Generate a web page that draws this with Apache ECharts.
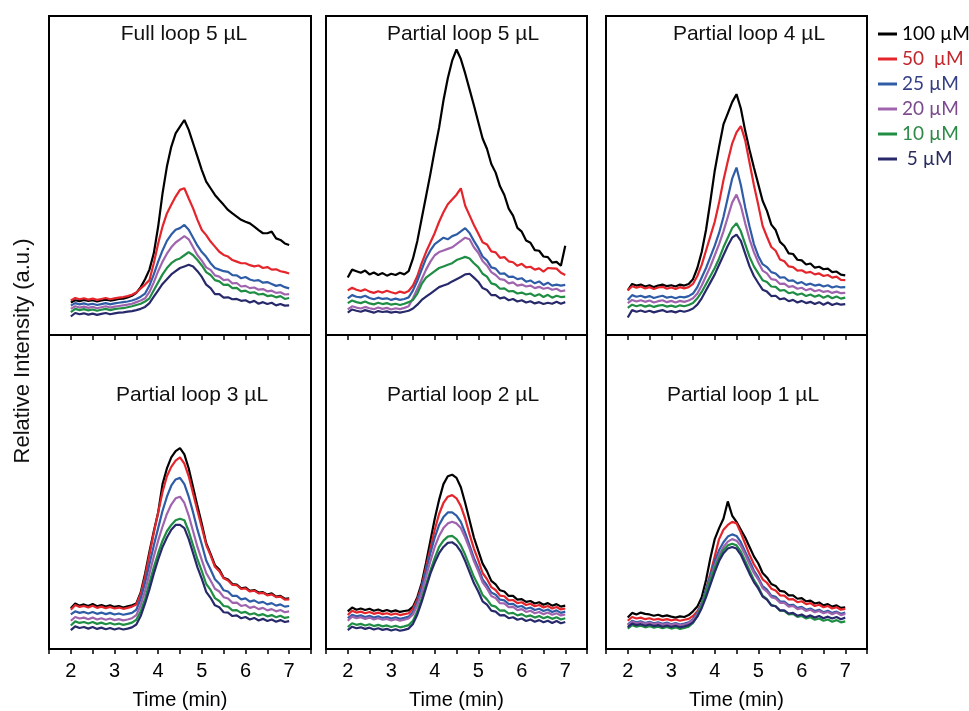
<!DOCTYPE html>
<html>
<head>
<meta charset="utf-8">
<title>Injection loop chromatograms</title>
<style>
  html, body { margin: 0; padding: 0; background: #ffffff; }
  #chart { width: 969px; height: 711px; }
</style>
<script src="https://cdn.jsdelivr.net/npm/echarts@6/dist/echarts.min.js"></script>
</head>
<body>
<div id="chart"></div>
<script>
// Retention time axis (min), shared by every trace
const TIMES = [2.0, 2.1, 2.2, 2.3, 2.4, 2.5, 2.6, 2.7, 2.8, 2.9,
               3.0, 3.1, 3.2, 3.3, 3.4, 3.5, 3.6, 3.7, 3.8, 3.9,
               4.0, 4.1, 4.2, 4.3, 4.4, 4.5, 4.6, 4.7, 4.8, 4.9,
               5.0, 5.1, 5.2, 5.3, 5.4, 5.5, 5.6, 5.7, 5.8, 5.9,
               6.0, 6.1, 6.2, 6.3, 6.4, 6.5, 6.6, 6.7, 6.8, 6.9, 7.0];

const CONCENTRATIONS = ['100 µM', '50  µM', '25 µM', '20 µM', '10 µM', ' 5 µM'];
const PANEL_TITLES = ['Full loop 5 µL', 'Partial loop 5 µL', 'Partial loop 4 µL',
                      'Partial loop 3 µL', 'Partial loop 2 µL', 'Partial loop 1 µL'];
const X_TICK_LABELS = [2, 3, 4, 5, 6, 7];

// Relative intensity (a.u.) — full loop, 5 µL
const full5_100 = [10.2,10.9,10.6,11.0,10.7,10.9,10.5,10.8,11.1,10.8,11.0,11.3,11.4,11.8,12.3,
  13.2,15.0,17.5,20.5,25.6,34.0,44.4,52.8,59.0,63.2,65.3,
  67.4,64.3,60.1,55.9,51.7, 48.1,46.0,43.9,42.3,40.8, 39.2,38.1,37.1,36.1,35.5,
  35.0,34.0,32.9,31.9,31.9, 32.4,30.3,29.8,28.7,28.2];
const full5_50 = [10.8,11.6,11.2,11.5,11.1,11.4,11.0,11.3,11.6,11.2,11.5,11.7,11.9,12.2,12.6,
  13.3,14.6,15.8,17.2,22.5,28.7,34.0,38.1,40.8,43.4,45.5,
  46.0,42.8,39.7,36.1,32.9, 31.3,29.3,27.7,26.1,25.1, 24.6,23.5,23.0,22.5,22.5,
  21.9,21.5,21.8,21.0,21.3, 20.5,20.6,20.0,19.7,19.3];
const full5_25 = [9.2,10.0,9.6,9.9,9.5,9.8,9.4,9.7,10.0,9.6,9.9,10.1,10.3,10.5,10.8,
  11.3,12.0,13.0,15.5,19.0,23.0,26.5,29.5,31.5,33.0,33.5,
  34.5,33.0,30.5,28.0,26.0, 24.5,22.5,21.0,20.5,20.0, 19.8,18.8,18.7,17.8,18.2,
  17.4,17.0,17.2,16.4,16.6, 16.0,15.4,15.7,15.0,14.6];
const full5_20 = [8.2,9.0,8.6,8.9,8.5,8.8,8.4,8.7,9.0,8.6,8.9,9.1,9.3,9.5,9.8,
  10.3,10.8,11.5,13.5,16.5,20.0,23.0,25.5,27.5,29.0,30.0,
  31.0,30.0,27.5,25.0,23.3, 21.2,20.4,18.7,18.3,17.2, 17.4,16.2,16.3,15.2,15.4,
  14.7,14.9,14.2,14.4,13.7, 13.9,13.2,13.4,12.7,12.8];
const full5_10 = [7.2,8.2,7.8,8.1,7.7,8.0,7.6,7.9,8.2,7.8,8.1,8.3,8.4,8.7,9.0,
  9.4,9.8,10.5,11.5,14.0,16.5,19.0,21.0,22.5,23.5,24.0,
  25.0,26.0,25.0,23.5,21.8, 19.7,18.8,17.2,16.8,15.7, 15.8,14.7,14.8,13.7,13.9,
  13.2,13.4,12.7,12.9,12.2, 12.4,11.8,12.2,11.3,11.6];
const full5_5 = [5.8,6.9,6.5,6.8,6.4,6.7,6.3,6.6,6.9,6.5,6.8,7.0,7.1,7.3,7.5,
  7.8,8.2,8.8,10.0,12.0,14.0,16.0,17.5,19.0,20.0,21.0,
  21.5,22.0,21.5,20.0,18.2, 15.8,14.7,12.8,12.8,11.7, 11.8,11.2,11.3,10.7,10.9,
  10.2,10.7,9.8,10.3,9.7, 10.1,9.3,9.7,9.2,9.3];

// Partial loop, 5 µL
const part5_100 = [18.0,20.5,20.0,19.5,20.2,19.0,19.6,18.8,19.4,18.6,19.2,18.8,19.5,19.0,20.0,
  24.0,29.5,36.5,43.5,50.5,58.0,65.0,73.5,80.5,86.0,89.5,
  86.5,82.0,77.0,72.0,66.8, 61.6,58.4,53.6,50.9,46.6, 43.9,39.6,37.4,33.6,32.4,
  29.6,28.9,26.6,26.4,24.6, 24.4,22.7,22.9,21.7,28.0];
const part5_50 = [14.0,14.8,14.2,13.8,14.3,13.6,13.2,13.7,13.3,13.9,13.4,13.0,13.6,13.2,13.8,
  15.5,18.5,22.5,26.0,29.0,32.0,35.5,38.5,41.0,42.5,44.0,
  46.0,40.5,37.5,34.5,31.8, 29.1,28.4,26.2,25.9,24.2, 24.4,23.1,22.8,21.7,22.3,
  21.2,21.4,20.5,20.9,19.9, 21.0,20.9,20.8,19.5,18.8];
const part5_25 = [11.5,12.5,12.0,11.8,12.3,11.6,11.2,11.7,11.3,11.5,11.0,11.4,11.0,11.3,11.8,
  14.0,17.0,20.5,24.0,26.5,28.5,29.5,30.5,30.0,31.0,31.5,
  32.5,33.5,32.0,29.5,27.3, 24.6,23.4,21.2,20.8,19.2, 19.3,18.2,18.3,17.5,17.8,
  16.7,17.1,16.2,16.8,15.7, 16.4,15.5,15.8,15.5,15.7];
const part5_20 = [8.0,9.0,8.6,8.3,8.8,8.4,8.1,8.6,8.2,8.5,8.0,8.4,8.1,8.5,9.0,
  11.5,14.5,17.5,20.5,23.0,25.0,26.0,26.5,27.0,27.5,28.5,
  29.5,30.5,30.0,27.5,25.8, 23.2,21.8,19.7,18.8,17.5, 17.3,16.2,16.5,15.5,15.8,
  15.2,15.5,14.7,15.1,14.5, 14.8,14.2,14.5,13.7,14.0];
const part5_10 = [10.0,10.8,10.3,10.0,10.5,9.9,9.6,10.1,9.7,10.0,9.5,9.8,9.4,9.8,10.3,
  11.0,13.0,16.0,18.0,19.0,20.0,21.0,21.5,22.0,22.5,23.5,
  24.0,24.5,24.0,22.5,21.3, 19.2,18.3,16.2,15.8,14.5, 14.6,13.7,13.8,13.0,13.3,
  12.7,13.0,12.2,12.8,11.9, 12.6,11.7,12.3,11.9,12.0];
const part5_5 = [7.0,8.0,7.6,7.3,7.8,7.4,7.0,7.5,7.2,7.4,7.0,7.3,7.0,7.3,7.6,
  8.3,9.5,11.0,12.0,13.0,14.0,15.0,15.5,16.0,16.8,17.5,
  18.2,19.0,19.2,18.0,16.7, 14.7,14.1,12.5,12.5,11.5, 11.8,10.9,11.3,10.5,10.9,
  10.2,10.6,9.9,10.3,9.7, 10.1,9.8,10.4,9.8,10.3];

// Partial loop, 4 µL
const part4_100 = [14.0,16.0,15.5,15.8,15.2,15.6,15.0,15.5,15.8,15.3,15.6,15.2,15.8,15.5,16.0,
  17.5,21.0,26.0,33.0,42.0,51.5,59.0,66.0,69.5,73.0,75.5,
  71.0,64.0,58.0,52.5,47.3, 42.1,38.9,34.6,32.9,29.2, 27.9,25.6,25.4,23.6,23.4,
  22.1,22.4,21.1,21.4,20.6, 20.8,19.7,19.9,18.9,18.7];
const part4_50 = [14.0,15.3,14.8,15.2,14.6,15.0,14.4,14.9,15.1,14.5,14.9,14.4,15.0,14.6,15.0,
  16.0,18.5,22.0,26.5,31.0,35.5,41.5,48.5,54.5,60.0,63.5,
  65.5,61.0,54.0,47.0,40.8, 34.2,30.8,27.6,26.4,23.7, 23.1,21.5,21.3,20.2,20.3,
  19.5,19.8,19.0,19.3,18.5, 18.8,18.0,18.3,17.3,17.2];
const part4_25 = [11.0,12.5,12.0,12.3,11.8,12.2,11.6,12.0,12.3,11.7,12.0,11.5,12.0,11.8,12.2,
  13.0,15.0,18.0,21.0,24.5,28.0,32.0,37.0,43.0,49.0,52.5,
  47.0,40.0,34.0,28.5,24.8, 22.2,21.3,19.7,19.3,18.0, 18.1,17.0,17.1,16.2,16.6,
  15.7,16.1,15.5,15.8,15.2, 15.6,14.9,15.3,14.9,15.0];
const part4_20 = [10.0,11.0,10.5,10.9,10.4,10.8,10.2,10.6,10.9,10.3,10.7,10.2,10.7,10.4,10.8,
  11.5,13.0,15.5,18.5,21.5,25.0,28.5,32.5,37.0,41.5,44.0,
  40.5,35.0,30.0,26.0,22.8, 20.2,19.3,17.5,17.3,16.0, 16.1,15.1,15.3,14.5,14.8,
  14.0,14.5,13.7,14.1,13.5, 13.8,13.2,13.6,13.1,13.2];
const part4_10 = [8.5,9.5,9.0,9.4,8.9,9.3,8.8,9.2,9.4,8.9,9.2,8.8,9.3,9.0,9.4,
  10.0,11.5,13.5,16.0,18.5,21.0,24.0,27.5,30.5,33.5,35.0,
  32.5,28.5,24.5,21.5,19.3, 17.2,16.6,15.2,15.1,13.9, 14.1,13.1,13.4,12.6,13.0,
  12.2,12.7,12.0,12.5,11.7, 12.3,11.5,12.1,11.4,11.7];
const part4_5 = [5.5,7.8,7.3,7.7,7.2,7.6,7.1,7.5,7.8,7.2,7.5,7.1,7.6,7.3,7.7,
  8.3,9.5,11.5,14.0,16.5,19.0,22.0,25.0,28.0,30.5,31.5,
  29.5,25.5,21.5,18.5,16.3, 14.2,13.6,12.2,12.3,11.2, 11.5,10.6,11.0,10.2,10.7,
  10.0,10.4,9.7,10.3,9.5, 10.2,9.4,9.9,9.5,9.7];

// Partial loop, 3 µL
const part3_100 = [13.0,14.5,13.8,14.2,13.7,14.3,13.6,14.0,13.5,13.9,13.4,13.7,13.2,13.6,13.9,
  14.5,18.0,24.0,31.0,37.5,43.5,52.5,57.5,61.0,63.0,64.0,
  62.0,57.5,51.5,45.5,39.8, 33.7,30.3,26.7,25.3,22.7, 22.1,20.7,20.5,19.3,19.6,
  18.5,18.8,18.0,18.1,17.3, 17.7,16.7,16.9,16.0,16.1];
const part3_50 = [12.5,14.0,13.4,13.7,13.2,13.8,13.1,13.5,13.0,13.4,12.9,13.2,12.8,13.1,13.5,
  14.2,17.5,23.0,30.0,37.0,43.5,50.0,55.0,58.0,60.0,61.0,
  59.0,55.0,49.5,44.0,38.7, 33.2,29.8,26.2,24.8,22.5, 21.8,20.4,20.3,19.1,19.3,
  18.3,18.6,17.7,17.9,17.1, 17.4,16.5,16.7,15.7,15.8];
const part3_25 = [11.0,12.0,11.5,11.8,11.3,11.8,11.2,11.6,11.1,11.5,11.0,11.3,10.9,11.2,11.5,
  12.5,16.0,21.0,27.0,33.0,38.5,44.0,48.5,52.0,54.0,54.5,
  52.5,48.5,43.5,38.0,33.3, 28.2,25.3,22.2,20.8,18.7, 18.3,16.9,16.9,15.8,16.1,
  15.1,15.5,14.7,15.0,14.2, 14.6,13.8,14.2,13.5,13.7];
const part3_20 = [9.0,10.2,9.7,10.0,9.5,10.0,9.4,9.8,9.3,9.7,9.2,9.5,9.1,9.4,9.8,
  10.8,14.0,18.5,24.0,29.5,34.5,39.0,43.0,46.0,48.0,48.5,
  46.5,42.5,37.5,32.5,28.3, 24.2,21.8,19.2,18.3,16.5, 16.1,14.7,14.8,13.7,14.0,
  13.1,13.5,12.7,13.1,12.3, 12.7,12.0,12.4,11.7,12.0];
const part3_10 = [7.5,8.8,8.3,8.6,8.1,8.6,8.0,8.4,7.9,8.3,7.8,8.1,7.7,8.0,8.4,
  9.3,12.0,16.0,21.0,26.0,30.5,34.5,37.5,39.5,41.0,41.5,
  41.0,37.5,33.0,28.5,24.8, 20.7,18.8,16.2,15.3,13.7, 13.5,12.3,12.4,11.5,11.8,
  11.0,11.4,10.7,11.1,10.4, 10.8,10.1,10.6,9.9,10.2];
const part3_5 = [6.0,7.2,6.7,7.0,6.5,7.0,6.4,6.8,6.3,6.7,6.2,6.6,6.2,6.5,6.9,
  7.8,10.5,14.5,19.0,24.0,28.5,32.5,35.5,38.0,39.5,39.5,
  38.5,35.0,30.5,26.0,22.3, 18.2,16.3,13.9,13.3,11.7, 11.6,10.5,10.7,9.8,10.2,
  9.4,9.9,9.1,9.6,8.9, 9.4,8.7,9.2,8.6,8.9];

// Partial loop, 2 µL
const part2_100 = [12.0,13.2,12.5,12.9,12.4,12.8,12.2,12.6,12.0,12.4,11.9,12.3,11.8,12.1,12.3,
  13.5,16.5,21.0,27.5,34.5,41.5,47.5,52.5,55.0,55.5,54.5,
  51.5,46.5,41.0,35.5,31.3, 27.2,24.8,21.7,20.6,18.7, 18.3,16.9,16.9,15.7,15.9,
  15.0,15.3,14.5,14.9,14.1, 14.6,13.8,14.3,13.5,13.8];
const part2_50 = [10.8,12.2,11.6,11.9,11.4,11.8,11.2,11.6,11.1,11.4,10.9,11.3,10.8,11.1,11.4,
  12.8,15.8,20.0,26.0,32.0,38.0,43.0,46.5,48.5,49.0,48.0,
  45.5,41.5,36.5,32.0,28.3, 24.2,22.3,19.7,18.8,17.0, 16.8,15.5,15.6,14.6,14.9,
  14.0,14.4,13.6,14.0,13.2, 13.7,12.9,13.4,12.6,12.9];
const part2_25 = [9.8,10.9,10.4,10.7,10.2,10.6,10.0,10.4,9.9,10.2,9.7,10.1,9.6,9.9,10.3,
  11.8,15.0,19.5,25.0,30.5,35.5,39.5,42.0,43.5,43.5,42.5,
  40.5,37.0,33.0,29.0,25.8, 22.2,20.3,18.0,17.3,15.7, 15.5,14.3,14.4,13.4,13.7,
  12.8,13.2,12.4,12.8,12.1, 12.6,11.8,12.3,11.5,11.9];
const part2_20 = [9.0,10.3,9.8,10.1,9.6,10.0,9.4,9.8,9.3,9.6,9.1,9.5,9.0,9.3,9.7,
  11.0,14.0,18.0,23.0,28.0,32.5,36.0,38.5,40.0,40.5,40.0,
  38.5,35.5,32.0,28.0,24.8, 21.2,19.3,16.9,16.2,14.6, 14.5,13.3,13.4,12.4,12.7,
  11.8,12.2,11.4,11.8,11.1, 11.6,10.9,11.4,10.7,11.0];
const part2_10 = [7.0,8.2,7.7,8.0,7.5,7.9,7.3,7.7,7.2,7.5,7.0,7.4,6.9,7.2,7.6,
  9.0,12.0,16.0,20.5,25.0,29.0,32.5,34.5,35.8,36.0,35.0,
  33.0,30.0,26.5,23.0,20.3, 17.2,15.8,13.9,13.5,12.2, 12.3,11.3,11.5,10.7,11.1,
  10.3,10.7,10.0,10.5,9.8, 10.3,9.6,10.1,9.4,9.8];
const part2_5 = [6.0,7.1,6.6,6.9,6.4,6.8,6.2,6.6,6.1,6.4,5.9,6.3,5.8,6.1,6.5,
  8.0,11.0,15.0,19.5,24.0,27.5,30.5,32.5,33.8,34.0,33.0,
  31.0,28.0,24.5,21.0,18.3, 15.2,14.1,12.2,11.9,10.7, 10.8,9.8,10.1,9.3,9.7,
  8.9,9.4,8.7,9.2,8.5, 9.0,8.3,8.9,8.2,8.6];

// Partial loop, 1 µL
const part1_100 = [10.0,11.5,11.0,11.6,11.2,11.0,10.6,10.9,10.4,10.7,10.3,10.0,10.4,10.2,10.8,
  12.0,13.5,16.5,22.0,29.0,35.0,38.5,41.5,47.0,42.5,40.5,
  38.0,35.5,32.5,29.5,27.3, 24.2,22.8,20.7,20.1,18.5, 18.3,17.1,17.1,16.0,16.2,
  15.2,15.4,14.5,14.8,13.9, 14.3,13.5,13.9,13.1,13.3];
const part1_50 = [9.0,10.2,9.7,10.0,9.5,9.8,9.3,9.6,9.2,9.5,9.1,9.4,9.0,9.3,9.6,
  10.5,12.0,14.5,19.0,24.0,29.5,35.0,38.0,39.5,40.5,40.0,
  37.0,33.5,30.0,27.0,24.8, 22.2,21.1,19.2,18.6,17.1, 17.0,15.8,15.9,14.9,15.2,
  14.3,14.6,13.7,14.1,13.3, 13.7,12.9,13.3,12.5,12.8];
const part1_25 = [7.8,9.0,8.5,8.8,8.3,8.7,8.2,8.5,8.0,8.4,7.9,8.3,7.8,8.1,8.5,
  9.5,11.5,14.5,19.0,23.5,28.0,31.5,34.0,35.8,36.5,36.0,
  34.0,31.0,28.0,25.0,22.8, 20.0,18.9,17.0,16.6,15.2, 15.1,14.0,14.1,13.1,13.4,
  12.5,12.9,12.1,12.5,11.7, 12.2,11.5,11.9,11.2,11.6];
const part1_20 = [7.5,8.7,8.2,8.5,8.0,8.4,7.9,8.2,7.7,8.1,7.6,8.0,7.5,7.8,8.2,
  9.2,11.0,14.0,18.0,22.5,26.5,30.0,32.5,34.2,35.0,34.5,
  32.8,30.0,27.0,24.2,22.1, 19.4,18.3,16.5,16.1,14.7, 14.7,13.5,13.7,12.7,13.0,
  12.1,12.5,11.7,12.1,11.4, 11.8,11.1,11.6,10.8,11.2];
const part1_10 = [6.5,7.6,7.1,7.4,6.9,7.3,6.8,7.1,6.6,7.0,6.5,6.9,6.4,6.7,7.1,
  8.3,10.5,13.8,18.0,22.0,25.8,29.0,31.5,33.0,33.5,33.0,
  31.0,28.0,25.0,22.0,19.8, 17.0,15.9,14.0,13.6,12.2, 12.1,11.0,11.2,10.2,10.5,
  9.7,10.1,9.3,9.7,9.0, 9.4,8.7,9.2,8.5,8.8];
const part1_5 = [7.0,8.1,7.6,7.9,7.4,7.8,7.3,7.6,7.1,7.5,7.0,7.4,6.9,7.2,7.6,
  8.5,10.3,13.0,16.5,20.5,24.5,28.0,30.5,32.0,32.5,32.0,
  30.0,27.0,24.0,21.3,19.3, 16.7,15.7,13.9,13.6,12.3, 12.3,11.3,11.5,10.6,11.0,
  10.2,10.7,10.0,10.5,9.8, 10.3,9.7,10.2,9.5,10.0];

// Panel traces, in concentration order (100 → 5 µM)
const PANEL_TRACES = [
  [full5_100, full5_50, full5_25, full5_20, full5_10, full5_5],
  [part5_100, part5_50, part5_25, part5_20, part5_10, part5_5],
  [part4_100, part4_50, part4_25, part4_20, part4_10, part4_5],
  [part3_100, part3_50, part3_25, part3_20, part3_10, part3_5],
  [part2_100, part2_50, part2_25, part2_20, part2_10, part2_5],
  [part1_100, part1_50, part1_25, part1_20, part1_10, part1_5]
];

// ---- styling & layout ----
const LINE_COLORS = ['#000000', '#e4252b', '#2f5ca6', '#a064ae', '#1f8d43', '#27296b'];
const LEGEND_TEXT_COLORS = ['#000000', '#c1272d', '#343f85', '#7c4b8d', '#2e8b47', '#2a2c5e'];
const FONT = '"Liberation Sans", Arial, Helvetica, sans-serif';

const COLS = [{ left: 49, width: 262 }, { left: 326, width: 261 }, { left: 606, width: 261 }];
const ROWS = [{ top: 16, height: 319 }, { top: 335, height: 314 }];
const TITLE_POS = [[184, 34], [463, 34], [749, 34], [192, 395], [463, 395], [743, 395]];

const grids = [], xAxes = [], yAxes = [], series = [], graphics = [];

for (let p = 0; p < 6; p++) {
  const col = COLS[p % 3], row = ROWS[Math.floor(p / 3)];
  const bottomRow = p >= 3;
  grids.push({
    left: col.left, top: row.top, width: col.width, height: row.height,
    show: true, borderColor: '#000', borderWidth: 2, backgroundColor: 'transparent'
  });
  xAxes.push({
    gridIndex: p, type: 'value', min: 1.5, max: 7.5, interval: 0.5,
    axisLine: { show: true, lineStyle: { color: '#000', width: 2 } },
    axisTick: { show: true, inside: false, length: 5, lineStyle: { color: '#000', width: 1.5 } },
    axisLabel: {
      show: bottomRow, margin: 12, fontSize: 20, color: '#000', fontFamily: FONT,
      formatter: v => (X_TICK_LABELS.indexOf(v) >= 0 ? String(v) : '')
    },
    splitLine: { show: false },
    name: bottomRow ? 'Time (min)' : '',
    nameLocation: 'middle', nameGap: 41,
    nameTextStyle: { fontSize: 20, color: '#000', fontFamily: FONT }
  });
  yAxes.push({ gridIndex: p, type: 'value', min: 0, max: 100, show: false });

  PANEL_TRACES[p].forEach((values, c) => {
    series.push({
      type: 'line', name: CONCENTRATIONS[c], xAxisIndex: p, yAxisIndex: p,
      data: TIMES.map((t, k) => [t, values[k]]),
      symbol: 'none', showSymbol: false, silent: true, animation: false,
      lineStyle: { width: 2.2, color: LINE_COLORS[c] },
      itemStyle: { color: LINE_COLORS[c] },
      z: 2 + c
    });
  });

  graphics.push({
    type: 'text', x: TITLE_POS[p][0], y: TITLE_POS[p][1], silent: true,
    style: {
      text: PANEL_TITLES[p], fill: '#111', font: '21px ' + FONT,
      align: 'center', verticalAlign: 'middle'
    }
  });
}

graphics.push({
  type: 'text', x: 23, y: 351, rotation: Math.PI / 2, silent: true,
  style: {
    text: 'Relative Intensity (a.u.)', fill: '#111', font: '22px ' + FONT,
    align: 'center', verticalAlign: 'middle'
  }
});

const chart = echarts.init(document.getElementById('chart'), null, { renderer: 'canvas' });
chart.setOption({
  animation: false,
  backgroundColor: '#ffffff',
  grid: grids,
  xAxis: xAxes,
  yAxis: yAxes,
  series: series,
  legend: {
    orient: 'vertical', left: 873, top: 19,
    icon: 'rect', itemWidth: 19, itemHeight: 3, itemGap: 5,
    selectedMode: false,
    textStyle: { fontSize: 19, fontFamily: 'Lato, "Open Sans", sans-serif', lineHeight: 20 },
    data: CONCENTRATIONS.map((n, i) => ({
      name: n, textStyle: { color: LEGEND_TEXT_COLORS[i] },
      itemStyle: { color: LINE_COLORS[i] }
    }))
  },
  graphic: graphics
});
</script>
</body>
</html>
